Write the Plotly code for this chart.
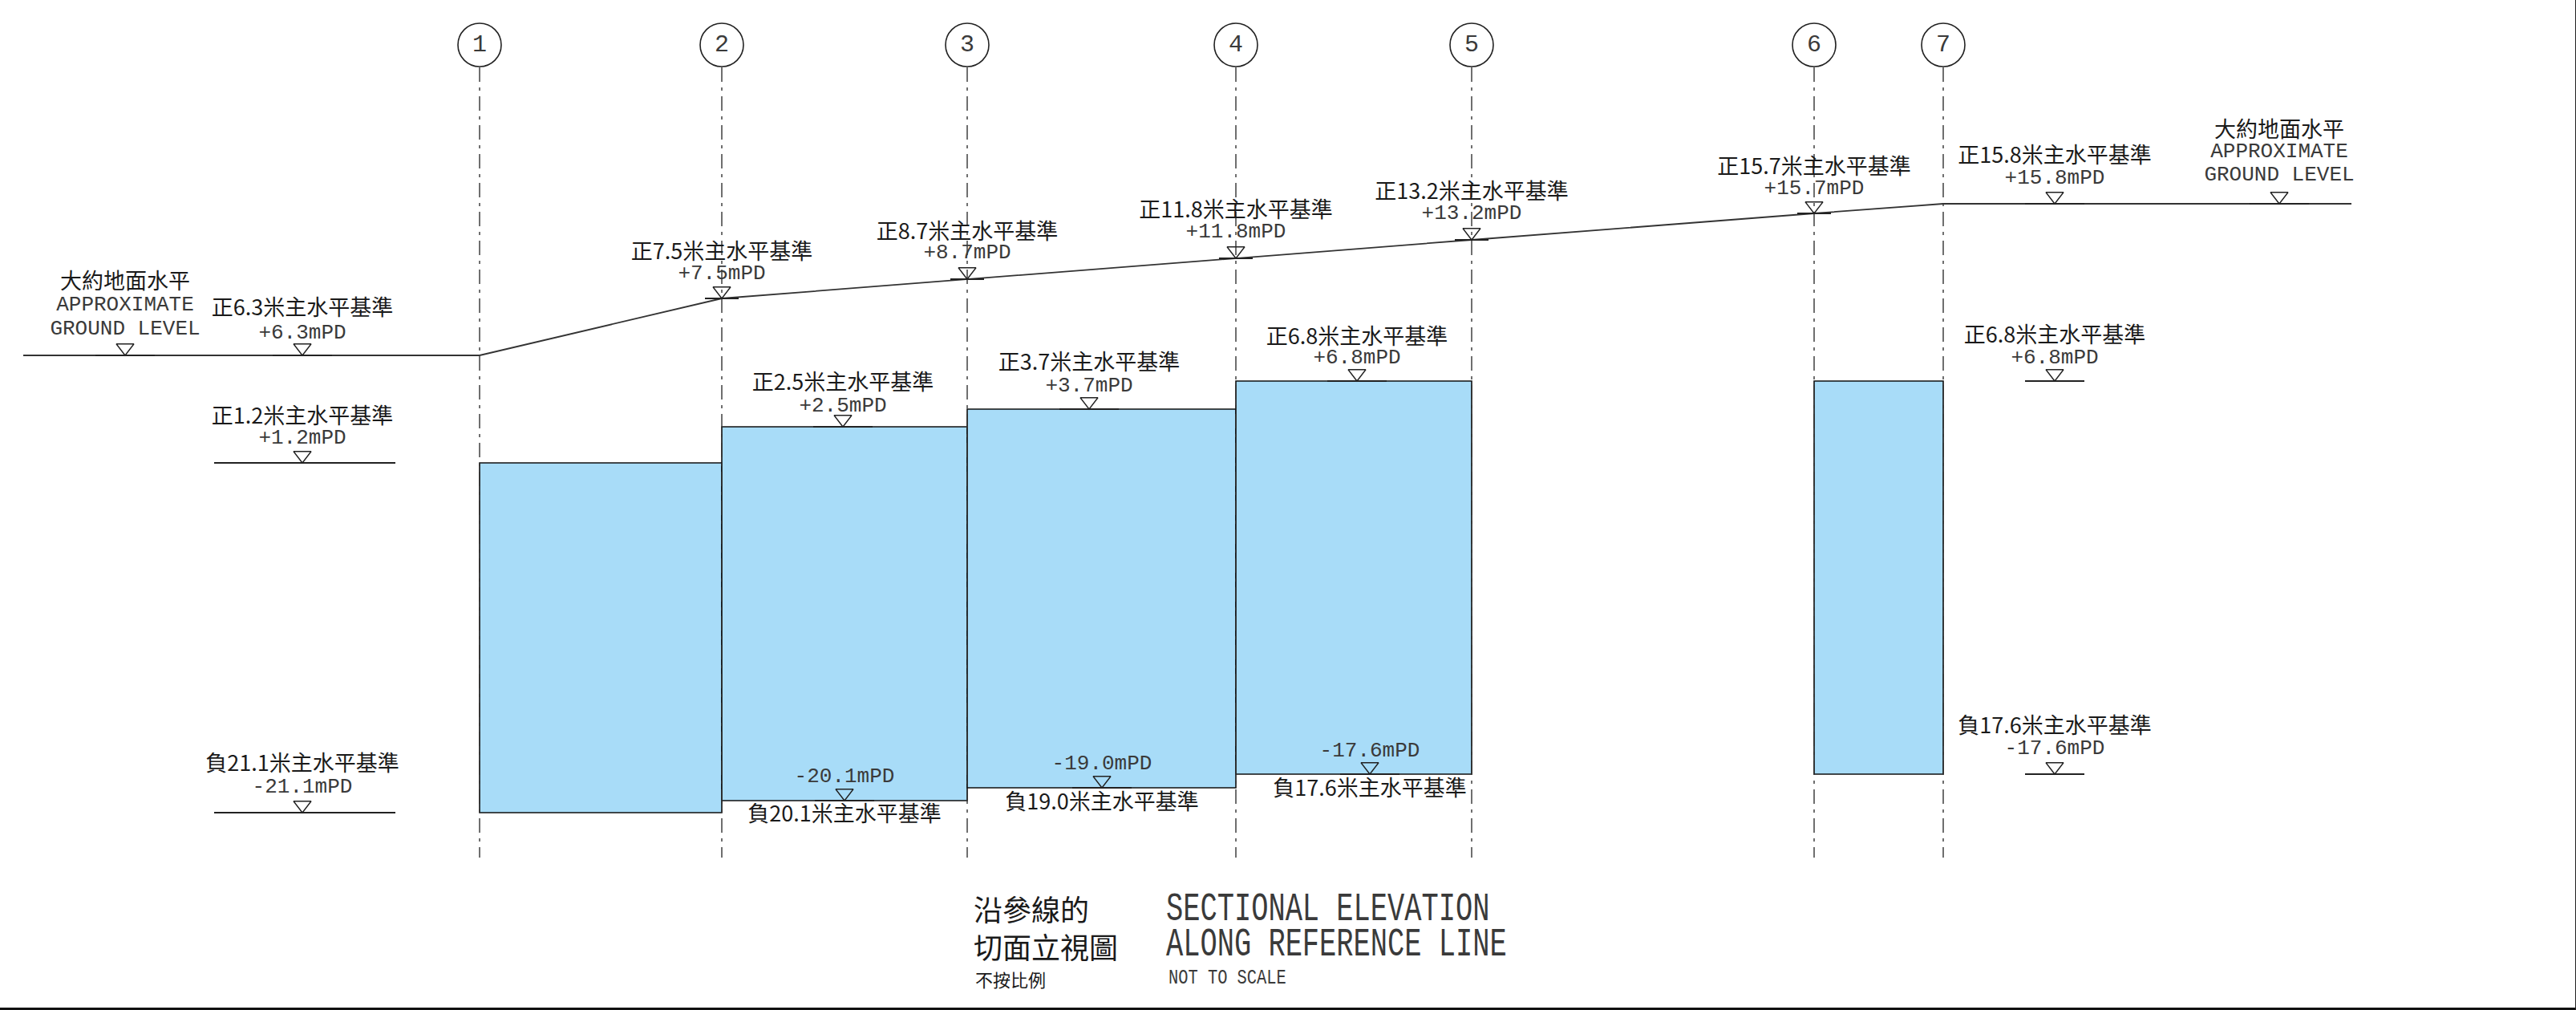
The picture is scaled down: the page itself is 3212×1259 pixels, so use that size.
import plotly.graph_objects as go

# ---- values ----
GRID_LABELS = ["1", "2", "3", "4", "5", "6", "7"]
GRID_X = [598, 900, 1206, 1541, 1835, 2262, 2423]

# Ground profile (drawing is not to scale: heights are schematic sheet heights)
GROUND_X = [29, 598, 900, 1206, 1541, 1835, 2262, 2423, 2932]
GROUND_Y = [441, 441, 370, 346, 320, 297, 264, 252, 252]

# Blocks between grid lines
BLOCK_LEFT = [598, 900, 1206, 1541, 2262]
BLOCK_RIGHT = [900, 1206, 1541, 1835, 2423]
BLOCK_TOP = [575, 530, 508, 473, 473]
BLOCK_BOTTOM = [1011, 996, 980, 963, 963]

# Level call-outs
LEVELS = [6.3, 1.2, -21.1, 7.5, 2.5, -20.1, 8.7, 3.7, -19.0, 11.8, 6.8, -17.6, 13.2, 15.7, 15.8, 6.8, -17.6]
LEVEL_X = [377, 377, 377, 900, 1051, 1053, 1206, 1358, 1374, 1541, 1692, 1708, 1835, 2262, 2562, 2562, 2562]
LEVEL_Y = [441, 575, 1011, 370, 530, 996, 346, 508, 980, 320, 473, 963, 297, 264, 252, 473, 963]
LEVEL_CN_Y = [384, 519, 952, 314, 477, 1015, 289, 452, 1000, 262, 420, 983, 239, 208, 194, 418, 905]
LEVEL_EN_Y = [413, 544, 979, 339, 504, 966, 313, 479, 950, 287, 444, 934, 264, 233, 220, 444, 931]
LEVEL_TICK = [37, 113, 113, 21, 37, 37, 21, 37, 37, 21, 37, 37, 21, 21, 37, 37, 37]
LEVEL_TICK_OFFSET = [0, 3, 3, 0, 0, 0, 0, 0, 0, 0, 0, 0, 0, 0, 0, 0, 0]

# Approximate ground level notes
APPROX_X = [156, 2842]
APPROX_Y = [441, 252]
APPROX_CN = "大約地面水平"
APPROX_EN1 = "APPROXIMATE"
APPROX_EN2 = "GROUND LEVEL"
APPROX_CN_Y = [351, 162]
APPROX_EN1_Y = [378, 187]
APPROX_EN2_Y = [408, 216]

TITLE_CN = ["沿參線的", "切面立視圖"]
TITLE_EN = ["SECTIONAL ELEVATION", "ALONG REFERENCE LINE"]
NOTE_CN = "不按比例"
NOTE_EN = "NOT TO SCALE"

# ---- styles ----
W, H = 3212, 1259
SHIFT = 2
INK = "#1a1a1a"
THIN_INK = "#3a3a3a"
FILL = "#a8dcf8"
CJK = "Noto Sans CJK TC"
MONO = "Liberation Mono"
TRI = 19


def cn_label(v):
    return f"{'正' if v >= 0 else '負'}{abs(v):.1f}米主水平基準"


def en_label(v):
    return f"{'+' if v >= 0 else '-'}{abs(v):.1f}mPD"


def text_trace(x, y, text, family, size, pos="middle center"):
    color = THIN_INK if family == MONO else INK
    return go.Scatter(x=x, y=y, text=text, mode="text", textposition=pos,
                      textfont=dict(family=family, size=size, color=color),
                      hoverinfo="skip", cliponaxis=False)


fig = go.Figure()

# blocks
fig.add_trace(go.Bar(
    x=[(a + b) / 2 for a, b in zip(BLOCK_LEFT, BLOCK_RIGHT)],
    width=[b - a for a, b in zip(BLOCK_LEFT, BLOCK_RIGHT)],
    base=BLOCK_TOP,
    y=[b - t for t, b in zip(BLOCK_TOP, BLOCK_BOTTOM)],
    marker=dict(color=FILL, line=dict(color="#111111", width=1.6)),
    hoverinfo="skip",
))

# grid lines
gx, gy = [], []
for x in GRID_X:
    gx += [x, x, None]
    gy += [82, 1067, None]
fig.add_trace(go.Scatter(x=gx, y=gy, mode="lines", hoverinfo="skip",
                         line=dict(color="#333333", width=1.4, dash="18px,7px,4px,7px")))

# ground line
fig.add_trace(go.Scatter(x=GROUND_X, y=GROUND_Y, mode="lines", hoverinfo="skip",
                         line=dict(color="#333333", width=1.8)))

# level ticks
tx, ty = [], []
for x, y, t, o in zip(LEVEL_X + APPROX_X, LEVEL_Y + APPROX_Y, LEVEL_TICK + [37, 37], LEVEL_TICK_OFFSET + [0, 0]):
    tx += [x + o - t, x + o + t, None]
    ty += [y, y, None]
fig.add_trace(go.Scatter(x=tx, y=ty, mode="lines", hoverinfo="skip",
                         line=dict(color="#222222", width=1.8)))

# triangles (tip sits on the level)
tip = TRI / 2
fig.add_trace(go.Scatter(
    x=LEVEL_X + APPROX_X, y=[y - tip for y in LEVEL_Y + APPROX_Y], mode="markers", hoverinfo="skip",
    marker=dict(symbol="triangle-down-open", size=TRI, color="#222222", line=dict(width=1.4, color="#222222")),
))

# grid bubbles
fig.add_trace(go.Scatter(
    x=GRID_X, y=[54] * len(GRID_X), mode="markers+text", text=GRID_LABELS, textposition="middle center",
    textfont=dict(family=MONO, size=30, color=THIN_INK), hoverinfo="skip",
    marker=dict(symbol="circle", size=54, color="white", line=dict(width=1.6, color="#222222")),
))

# labels
fig.add_trace(text_trace(LEVEL_X, LEVEL_CN_Y, [cn_label(v) for v in LEVELS], CJK, 27))
fig.add_trace(text_trace(LEVEL_X, LEVEL_EN_Y, [en_label(v) for v in LEVELS], MONO, 26))
fig.add_trace(text_trace(APPROX_X, APPROX_CN_Y, [APPROX_CN] * 2, CJK, 27))
fig.add_trace(text_trace(APPROX_X, APPROX_EN1_Y, [APPROX_EN1] * 2, MONO, 26))
fig.add_trace(text_trace(APPROX_X, APPROX_EN2_Y, [APPROX_EN2] * 2, MONO, 26))

# title block
fig.add_trace(text_trace([1214, 1214], [1137, 1184], TITLE_CN, CJK, 36, "middle right"))
fig.add_trace(text_trace([1454, 1454], [1133, 1177], TITLE_EN, MONO, 35.4, "middle right"))
fig.add_trace(text_trace([1216], [1222], [NOTE_CN], CJK, 22, "middle right"))
fig.add_trace(text_trace([1457], [1217], [NOTE_EN], MONO, 20.4, "middle right"))

fig.update_layout(
    width=W, height=H, margin=dict(l=0, r=0, t=0, b=0),
    paper_bgcolor="white", plot_bgcolor="white", showlegend=False, barmode="overlay",
    xaxis=dict(range=[0, W], visible=False, fixedrange=True),
    yaxis=dict(range=[H - SHIFT, -SHIFT], visible=False, fixedrange=True),
    shapes=[
        dict(type="line", xref="paper", yref="paper", x0=0, x1=1, y0=0, y1=0,
             line=dict(color="#111111", width=6)),
        dict(type="line", xref="paper", yref="paper", x0=1, x1=1, y0=0, y1=1,
             line=dict(color="#222222", width=2)),
    ],
)

# The CAD title lettering is more condensed than any installed font: stretch only
# the monospaced title lines vertically about their own centres.
POST = """
document.body.style.margin='0';
document.querySelectorAll('.textpoint text').forEach(function(t){
  if ((t.style.fontFamily||'').indexOf('Liberation Mono')<0) return;
  var fs=parseFloat(t.style.fontSize), k=(fs>33)?1.4:(fs<22)?1.3:1;
  if (k===1) return;
  var b=t.getBBox(), cy=b.y+b.height/2;
  t.setAttribute('transform','translate(0,'+cy+') scale(1,'+k+') translate(0,'+(-cy)+')');
});
"""
fig.write_html("out.html", config=dict(displayModeBar=False), post_script=POST)
